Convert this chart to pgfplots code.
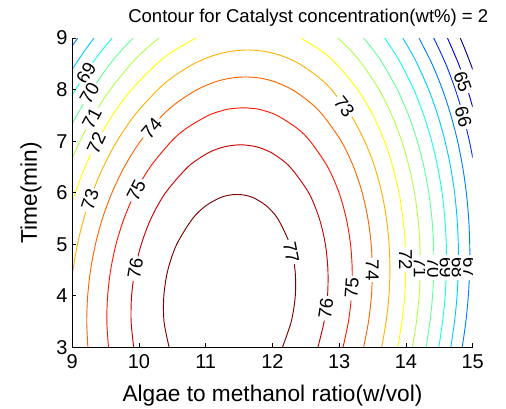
\documentclass[border=0pt]{standalone}
\usepackage{fontspec}
\setmainfont{Liberation Sans}
\usepackage{pgfplots}
\pgfplotsset{compat=1.18}
\definecolor{c77}{rgb}{0.5,0,0}
\definecolor{c76}{rgb}{0.8,0,0}
\definecolor{c75}{rgb}{1,0.1,0}
\definecolor{c74}{rgb}{1,0.4,0}
\definecolor{c73}{rgb}{1,0.7,0}
\definecolor{c72}{rgb}{1,1,0}
\definecolor{c71}{rgb}{0.7,1,0.3}
\definecolor{c70}{rgb}{0.4,1,0.6}
\definecolor{c69}{rgb}{0.1,1,0.9}
\definecolor{c68}{rgb}{0,0.8,1}
\definecolor{c67}{rgb}{0,0.5,1}
\definecolor{c66}{rgb}{0,0.2,1}
\definecolor{c65}{rgb}{0,0,0.9}
\definecolor{c64}{rgb}{0,0,0.6}
\begin{document}
\begin{tikzpicture}
\useasboundingbox (-54.2pt,-45.4pt) rectangle (325.3pt,260.6pt);
\begin{axis}[
  at={(0,0)}, anchor=south west,
  scale only axis, width=300.3pt, height=232.1pt,
  xmin=9, xmax=15, ymin=3, ymax=9,
  xtick={9,10,11,12,13,14,15}, ytick={3,4,5,6,7,8,9},
  axis x line*=bottom, axis y line*=left,
  axis on top,
  tick align=inside, major tick length=3pt,
  tick style={black, line width=0.6pt},
  axis line style={black, line width=0.8pt},
  /pgf/number format/assume math mode=true,
  tick label style={font=\fontsize{15}{15}\selectfont},
  xticklabel style={yshift=-2pt},
  xlabel={Algae to methanol ratio(w/vol)},
  ylabel={Time(min)},
  xlabel style={at={(axis description cs:0.5,-0.175)}, anchor=base, font=\fontsize{17}{17}\selectfont},
  ylabel style={at={(axis description cs:-0.103,0.5)}, anchor=center, font=\fontsize{17}{17}\selectfont},
  every axis plot/.append style={line width=0.7pt, smooth, tension=0.5, no markers},
  clip=true,
]
% level 77
\addplot[c77] coordinates {(10.452,3) (10.375,3.5) (10.372,4) (10.432,4.5) (10.565,5) (10.804,5.5) (11.005,5.75) (11.209,5.9) (11.338,5.95) (11.468,5.967) (11.596,5.95) (11.719,5.9) (11.905,5.75) (12.078,5.5) (12.261,5) (12.338,4.5) (12.342,4) (12.281,3.5) (12.148,3)};
% level 76
\addplot[c76] coordinates {(9.921,3) (9.882,3.5) (9.889,4) (9.939,4.5) (10.034,5) (10.180,5.5) (10.398,6) (10.733,6.5) (11.005,6.75) (11.176,6.85) (11.311,6.9) (11.522,6.930) (11.729,6.9) (11.858,6.85) (12.019,6.75) (12.263,6.5) (12.543,6) (12.702,5.5) (12.793,5) (12.831,4.5) (12.825,4) (12.774,3.5) (12.680,3)};
% level 75
\addplot[c75] coordinates {(9.543,3) (9.518,3.5) (9.530,4) (9.575,4.5) (9.656,5) (9.776,5.5) (9.942,6) (10.168,6.5) (10.487,7) (10.711,7.25) (11.040,7.5) (11.268,7.6) (11.385,7.63) (11.563,7.647) (11.739,7.63) (11.852,7.6) (12.068,7.5) (12.369,7.25) (12.565,7) (12.828,6.5) (12.998,6) (13.106,5.5) (13.170,5) (13.195,4.5) (13.184,4) (13.138,3.5) (13.057,3)};
% level 74
\addplot[c74] coordinates {(9.234,3) (9.217,3.5) (9.231,4) (9.274,4.5) (9.347,5) (9.452,5.5) (9.595,6) (9.780,6.5) (10.022,7) (10.351,7.5) (10.572,7.75) (10.871,8) (11.144,8.15) (11.364,8.22) (11.596,8.245) (11.826,8.22) (12.038,8.15) (12.295,8) (12.564,7.75) (12.757,7.5) (13.030,7) (13.216,6.5) (13.345,6) (13.430,5.5) (13.479,5) (13.496,4.5) (13.483,4) (13.439,3.5) (13.366,3)};
% level 73
\addplot[c73] coordinates {(9.0,4.4) (9.010,4.5) (9.078,5) (9.174,5.5) (9.302,6) (9.464,6.5) (9.670,7) (9.932,7.5) (10.283,8) (10.514,8.25) (10.821,8.5) (11.091,8.65) (11.364,8.74) (11.625,8.768) (11.884,8.74) (12.148,8.65) (12.401,8.5) (12.680,8.25) (12.883,8) (13.176,7.5) (13.382,7) (13.532,6.5) (13.638,6) (13.708,5.5) (13.748,5) (13.760,4.5) (13.745,4) (13.703,3.5) (13.635,3)};
% level 72
\addplot[c72] coordinates {(9.0,5.83) (9.044,6) (9.192,6.5) (9.374,7) (9.601,7.5) (9.888,8) (10.267,8.5) (10.517,8.75) (10.855,9)};
\addplot[c72] coordinates {(12.424,9) (12.733,8.75) (12.955,8.5) (13.278,8) (13.507,7.5) (13.678,7) (13.804,6.5) (13.896,6) (13.956,5.5) (13.989,5) (13.997,4.5) (13.981,4) (13.940,3.5) (13.876,3)};
% level 71
\addplot[c71] coordinates {(9.0,6.67) (9.115,7) (9.319,7.5) (9.569,8) (9.882,8.5) (10.072,8.75) (10.298,9)};
\addplot[c71] coordinates {(12.980,9) (13.178,8.75) (13.340,8.5) (13.597,8) (13.790,7.5) (13.937,7) (14.048,6.5) (14.128,6) (14.181,5.5) (14.209,5) (14.215,4.5) (14.198,4) (14.158,3.5) (14.096,3)};
% level 70
\addplot[c70] coordinates {(9.0,7.34) (9.068,7.5) (9.294,8) (9.568,8.5) (9.729,8.75) (9.912,9)};
\addplot[c70] coordinates {(13.366,9) (13.521,8.75) (13.654,8.5) (13.872,8) (14.040,7.5) (14.171,7) (14.270,6.5) (14.342,6) (14.389,5.5) (14.414,5) (14.417,4.5) (14.399,4) (14.360,3.5) (14.301,3)};
% level 69
\addplot[c69] coordinates {(9.0,7.89) (9.049,8) (9.296,8.5) (9.439,8.75) (9.598,9)};
\addplot[c69] coordinates {(13.680,9) (13.811,8.75) (13.926,8.5) (14.118,8) (14.268,7.5) (14.386,7) (14.476,6.5) (14.542,6) (14.583,5.5) (14.605,5) (14.606,4.5) (14.588,4) (14.549,3.5) (14.492,3)};
% level 68
\addplot[c68] coordinates {(9.0,8.39) (9.054,8.5) (9.184,8.75) (9.326,9)};
\addplot[c68] coordinates {(13.952,9) (14.067,8.75) (14.169,8.5) (14.341,8) (14.478,7.5) (14.586,7) (14.669,6.5) (14.729,6) (14.766,5.5) (14.785,5) (14.785,4.5) (14.766,4) (14.728,3.5) (14.672,3)};
% level 67
\addplot[c67] coordinates {(9.0,8.85) (9.029,8.9) (9.083,9)};
\addplot[c67] coordinates {(14.195,9) (14.390,8.5) (14.548,8) (14.674,7.5) (14.774,7) (14.850,6.5) (14.905,6) (14.940,5.5) (14.956,5) (14.955,4.5) (14.935,4) (14.898,3.5) (14.843,3)};
% level 66
\addplot[c66] coordinates {(14.417,9) (14.596,8.5) (14.741,8) (14.858,7.5) (14.951,7) (15.0,6.68)};
% level 65
\addplot[c65] coordinates {(14.622,9) (14.788,8.5) (14.923,8) (14.980,7.75) (15.0,7.66)};
% level 64
\addplot[c64] coordinates {(14.814,9) (14.895,8.75) (14.969,8.5) (15.0,8.39)};
% contour labels
\tikzset{cl/.style={fill=white, inner sep=1.5pt, font=\fontsize{14}{14}\selectfont}}
\node[cl, rotate=58] at (axis cs:9.207,8.32) {69};
\node[cl, rotate=60] at (axis cs:9.26,7.93) {70};
\node[cl, rotate=62] at (axis cs:9.295,7.44) {71};
\node[cl, rotate=65] at (axis cs:9.36,6.96) {72};
\node[cl, rotate=72] at (axis cs:9.266,5.86) {73};
\node[cl, rotate=50] at (axis cs:10.19,7.25) {74};
\node[cl, rotate=63] at (axis cs:9.96,6.05) {75};
\node[cl, rotate=80] at (axis cs:9.945,4.53) {76};
\node[cl, rotate=-79] at (axis cs:12.28,4.85) {77};
\node[cl, rotate=82] at (axis cs:12.80,3.76) {76};
\node[cl, rotate=86] at (axis cs:13.19,4.15) {75};
\node[cl, rotate=-90] at (axis cs:13.496,4.5) {74};
\node[cl, rotate=-53] at (axis cs:13.076,7.67) {73};
\node[cl, rotate=-90] at (axis cs:13.995,4.7) {72};
\node[cl, rotate=-90] at (axis cs:14.215,4.55) {71};
\node[cl, rotate=-90] at (axis cs:14.417,4.55) {70};
\node[cl, rotate=-90] at (axis cs:14.606,4.55) {69};
\node[cl, rotate=-90] at (axis cs:14.785,4.55) {68};
\node[cl, rotate=-90] at (axis cs:14.956,4.55) {67};
\node[cl, rotate=-71] at (axis cs:14.85,8.15) {65};
\node[cl, rotate=-75] at (axis cs:14.86,7.47) {66};
\end{axis}
\node[anchor=base west, inner sep=0pt] at (41.8pt,243.6pt) {\fontsize{13.9}{16}\selectfont Contour for Catalyst concentration(wt\%) = 2};
\end{tikzpicture}
\end{document}
